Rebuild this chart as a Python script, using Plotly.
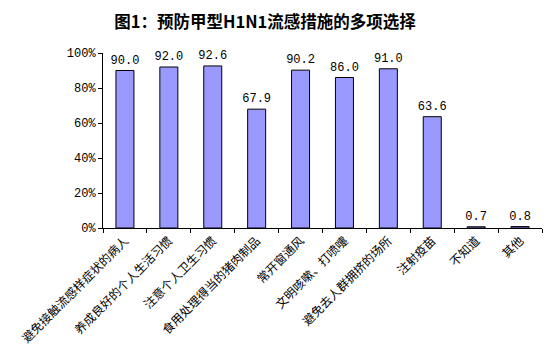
import plotly.graph_objects as go

categories = ["避免接触流感样症状的病人", "养成良好的个人生活习惯", "注意个人卫生习惯",
              "食用处理得当的猪肉制品", "常开窗通风", "文明咳嗽、打喷嚏",
              "避免去人群拥挤的场所", "注射疫苗", "不知道", "其他"]
values = [90.0, 92.0, 92.6, 67.9, 90.2, 86.0, 91.0, 63.6, 0.7, 0.8]
y_ticks = [0, 20, 40, 60, 80, 100]
y_tick_text = ["0%", "20%", "40%", "60%", "80%", "100%"]

fig = go.Figure(go.Bar(
    x=categories, y=values,
    marker=dict(color="#9999FF", line=dict(color="black", width=1)),
    text=[f"{v:.1f}" for v in values], textposition="outside",
    constraintext="none",
    textfont=dict(size=12, color="black", family="Liberation Mono"),
    cliponaxis=False, width=0.41,
))

# page body has an 8px default margin, so the figure is shifted by 8px
fig.update_layout(
    width=545, height=351,
    margin=dict(l=95, r=11, t=45, b=131),
    paper_bgcolor="white", plot_bgcolor="white",
    font=dict(family="Noto Sans CJK SC", size=12, color="black"),
    title=dict(text="<b>图1：预防甲型H1N1流感措施的多项选择</b>", x=0.4716, xanchor="center",
               y=0.96, yanchor="middle", font=dict(size=16.5, family="Noto Sans CJK SC")),
    showlegend=False,
)
fig.update_xaxes(showline=True, linecolor="black", linewidth=1, ticks="outside",
                 tickson="boundaries", ticklen=4, tickcolor="black", tickangle=-45,
                 tickfont=dict(size=12), showgrid=False, automargin=False)
fig.update_yaxes(range=[0, 100], showline=True, linecolor="black", linewidth=1,
                 tickvals=y_ticks, ticktext=y_tick_text, ticks="outside", ticklen=4,
                 tickcolor="black", showgrid=False, zeroline=False, automargin=False,
                 tickfont=dict(size=12, family="Liberation Mono"))

fig.write_html("out.html")
